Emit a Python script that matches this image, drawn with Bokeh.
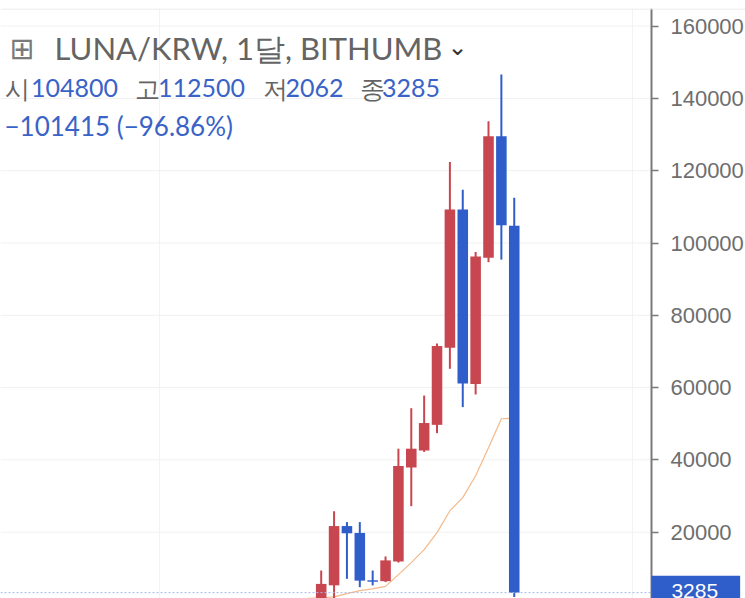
from bokeh.plotting import figure
from bokeh.models import Range1d, FixedTicker, Span, Label, BasicTickFormatter
from bokeh.embed import file_html
from bokeh.resources import INLINE

# ---- data (monthly candles, LUNA/KRW, BITHUMB) ----
candle_idx = list(range(1, 17))
opens  = [1500, 5300, 21700, 19800, 6700, 6450, 11900, 37900, 42600, 49700, 71000, 109300, 61000, 95900, 129500, 104800]
highs  = [9400, 25800, 22800, 22800, 9400, 13300, 43100, 54300, 57800, 72200, 122400, 114700, 97500, 133700, 146600, 112500]
lows   = [800, 500, 7100, 4800, 5300, 6200, 11600, 27200, 42200, 47400, 65200, 54600, 58100, 94700, 95400, 2062]
closes = [5700, 21700, 19700, 6600, 6300, 12200, 38300, 43100, 50200, 71500, 109300, 61100, 96300, 129500, 104900, 3285]

ma_idx  = list(range(-1, 17))
ma_vals = [800, 1700, 1850, 2100, 3000, 3850, 4300, 5000, 8260, 11580, 15170, 19870, 25950, 29550, 35630, 43370, 51380, 51580]

y_ticks = [20000, 40000, 60000, 80000, 100000, 120000, 140000, 160000]
x_grid_ticks = [-11.6, 25.2]
last_price = 3285

title_text = "LUNA/KRW, 1달, BITHUMB"
ohlc_labels = ["시", "고", "저", "종"]
ohlc_values = ["104800", "112500", "2062", "3285"]
change_text = "−101415 (−96.86%)"

RED = "#c8464f"
BLUE = "#2f5ecb"
TXT_BLUE = "#3a63c8"
TXT_GRAY = "#646464"

X0, X1 = -23.92, 33.97          # full canvas width
AXIS_X = 26.66                   # where the price scale sits
Y0, Y1 = 1660, 164869

p = figure(width=745, height=598, output_backend="svg", toolbar_location=None,
           x_axis_location=None, y_axis_location="right",
           x_range=Range1d(X0, X1), y_range=Range1d(Y0, Y1),
           min_border_left=0, min_border_top=8, min_border_bottom=0, min_border_right=0)
p.outline_line_color = None
p.background_fill_color = "white"
p.border_fill_color = "white"

p.ygrid.visible = False
p.xgrid.ticker = FixedTicker(ticks=x_grid_ticks)
p.xgrid.grid_line_color = "#f3f3f3"

# horizontal grid lines only across the chart pane (left of price scale)
p.segment(x0=[X0] * len(y_ticks), x1=[AXIS_X] * len(y_ticks), y0=y_ticks, y1=y_ticks,
          line_color="#f1f1f1", line_width=1)

ax = p.yaxis[0]
ax.fixed_location = AXIS_X
ax.ticker = FixedTicker(ticks=y_ticks)
ax.formatter = BasicTickFormatter(use_scientific=False)
ax.major_label_text_font = "Liberation Sans"
ax.major_label_text_font_size = "22px"
ax.major_label_text_color = "#6e6e6e"
ax.major_tick_out = 7
ax.major_tick_in = 0
ax.minor_tick_out = 0
ax.minor_tick_in = 0
ax.axis_line_color = "#7a7a7a"
ax.axis_line_width = 2
ax.major_tick_line_color = "#7a7a7a"
ax.major_tick_line_width = 1.5
ax.major_label_standoff = 12

# top border line
p.add_layout(Span(location=Y1 - 150, dimension="width", line_color="#e6e6e6", line_width=1))

# moving average
p.line(ma_idx, ma_vals, line_color="#f4b98a", line_width=1.2)

# candles
for is_up, col in [(True, RED), (False, BLUE)]:
    sel = [i for i in range(len(candle_idx)) if (closes[i] >= opens[i]) == is_up]
    xs = [candle_idx[i] for i in sel]
    p.segment(x0=xs, y0=[lows[i] for i in sel], x1=xs, y1=[highs[i] for i in sel],
              line_color=col, line_width=2)
    p.vbar(x=xs, width=0.82,
           top=[max(opens[i], closes[i]) for i in sel],
           bottom=[min(opens[i], closes[i]) for i in sel],
           fill_color=col, line_color=None)

# last price line + price tag on the scale
p.segment(x0=[X0], x1=[AXIS_X + 0.55], y0=[last_price], y1=[last_price],
          line_color="#a9b9ea", line_dash="2 2", line_width=1)
p.add_layout(Label(x=AXIS_X, y=last_price, x_units="data", y_units="data", text=str(last_price),
                   text_color="white", background_fill_color=BLUE,
                   text_font="Liberation Sans", text_font_size="21px",
                   text_baseline="middle", text_align="left", level="overlay",
                   padding=dict(left=20, right=22, top=8, bottom=12)))

# header overlay (screen coords: x from frame left, y from frame bottom)
def lab(x, y, text, color, size, font="Lato"):
    p.add_layout(Label(x=x, y=y, x_units="screen", y_units="screen", text=text,
                       text_color=color, text_font=font, text_font_size=size,
                       text_baseline="middle", text_align="left"))

lab(9, 550, "⊞", "#7a7a7a", "30px", font="DejaVu Sans")
lab(54, 550.5, title_text, TXT_GRAY, "31px")
lab(447, 552, "⌄", "#333333", "24px", font="DejaVu Sans")

lab_x = [4, 134, 262, 359]
val_x = [30.5, 157.5, 285, 381.5]
for lx, vx, l, v in zip(lab_x, val_x, ohlc_labels, ohlc_values):
    lab(lx, 510.5, l, TXT_GRAY, "25px")
    lab(vx, 510.5, v, TXT_BLUE, "25px")

lab(4, 472.7, change_text, TXT_BLUE, "26px")

open("out.html", "w").write(file_html(p, INLINE))
